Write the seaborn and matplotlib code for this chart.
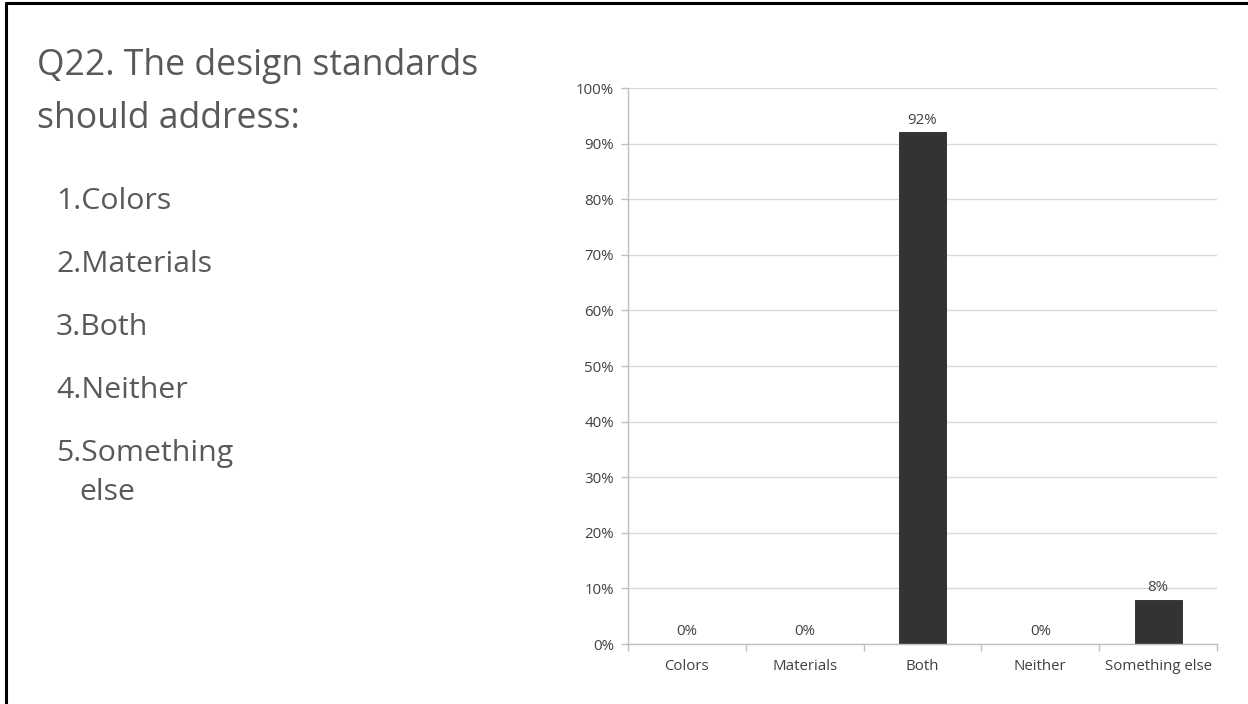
import matplotlib
matplotlib.use("Agg")
import matplotlib.pyplot as plt
from matplotlib.lines import Line2D
from matplotlib.ticker import FixedLocator, PercentFormatter
import seaborn as sns
import pandas as pd

# Survey responses for Q22
categories = ["Colors", "Materials", "Both", "Neither", "Something else"]
shares = [0, 0, 92, 0, 8]
y_ticks = [0, 10, 20, 30, 40, 50, 60, 70, 80, 90, 100]

title_lines = ["Q22. The design standards", "should address:"]
options = ["1.Colors", "2.Materials", "3.Both", "4.Neither", "5.Something"]
option_tail = "else"

sns.set_theme(style="white")
plt.rcParams["font.family"] = ["Open Sans", "DejaVu Sans"]

W, H = 1248, 704
fig = plt.figure(figsize=(W / 100, H / 100), dpi=100)
fig.patch.set_facecolor("white")
renderer = fig.canvas.get_renderer()


def px(x, y):
    return x / W, 1 - y / H


def fitted_size(sample, width_px, start=20.0):
    """Font size at which `sample` is width_px pixels wide."""
    t = fig.text(0, 0, sample, fontsize=start)
    w = t.get_window_extent(renderer).width
    t.remove()
    return start * width_px / w


# slide frame (left and top edges)
fig.add_artist(Line2D([6 / W, 6 / W], [0, 1 - 3 / H], color="black", lw=2.2,
                      transform=fig.transFigure))
fig.add_artist(Line2D([6 / W, 1], [1 - 3 / H, 1 - 3 / H], color="black", lw=2.2,
                      transform=fig.transFigure))

text_col = "#595959"
title_size = fitted_size(title_lines[1], 262)
for i, line in enumerate(title_lines):
    x, y = px(37, 75 + i * 53)
    fig.text(x, y, line, fontsize=title_size, color=text_col,
             va="baseline", ha="left")

option_size = fitted_size(options[1], 156)
for i, opt in enumerate(options):
    x, y = px(56, 209 + i * 63)
    fig.text(x, y, opt, fontsize=option_size, color=text_col,
             va="baseline", ha="left")
x, y = px(79, 500)
fig.text(x, y, option_tail, fontsize=option_size, color=text_col,
         va="baseline", ha="left")

# chart area
left, right = 628 / W, 1217 / W
bottom, top = 1 - 644 / H, 1 - 88 / H
ax = fig.add_axes([left, bottom, right - left, top - bottom])

df = pd.DataFrame({"category": categories, "share": shares})
sns.barplot(data=df, x="category", y="share", color="#333333", width=0.4,
            saturation=1, edgecolor="#262626", linewidth=0.6, ax=ax)

ax.set_ylim(0, 100)
ax.set_xlim(-0.5, len(categories) - 0.5)
ax.set_yticks(y_ticks)
ax.yaxis.set_major_formatter(PercentFormatter(decimals=0))
ax.set_xlabel("")
ax.set_ylabel("")

ax.grid(axis="y", color="#d9d9d9", lw=1.0)
ax.set_axisbelow(True)
for s in ["top", "right"]:
    ax.spines[s].set_visible(False)
for s in ["left", "bottom"]:
    ax.spines[s].set_color("#bfbfbf")
    ax.spines[s].set_linewidth(1.0)

tick_col = "#404040"
label_size = 10.8
ax.tick_params(axis="y", which="major", left=True, length=5, width=1,
               color="#bfbfbf", labelsize=label_size, labelcolor=tick_col, pad=5)
ax.tick_params(axis="x", which="major", bottom=False, length=0,
               labelsize=label_size, labelcolor=tick_col, pad=11)
ax.xaxis.set_minor_locator(FixedLocator([i - 0.5 for i in range(len(categories) + 1)]))
ax.tick_params(axis="x", which="minor", bottom=True, length=5, width=1,
               color="#bfbfbf")

for container in ax.containers:
    ax.bar_label(container, labels=[f"{v:.0f}%" for v in shares],
                 padding=3.5, fontsize=label_size, color=tick_col)

fig.savefig("out.png", dpi=100, facecolor="white")
